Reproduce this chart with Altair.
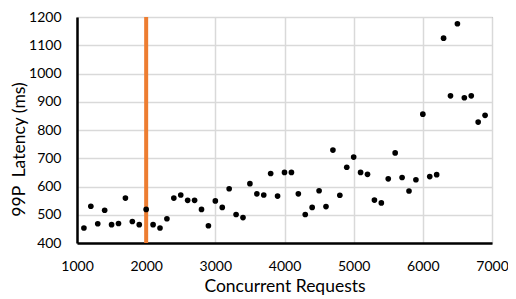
import altair as alt
import pandas as pd

requests = list(range(1100, 7000, 100))
latency = [453, 530, 468, 516, 465, 469, 559, 476, 465, 519,
           465, 453, 486, 559, 570, 551, 551, 519, 461, 549,
           526, 592, 501, 490, 610, 574, 570, 646, 566, 650,
           650, 574, 501, 526, 585, 529, 729, 569, 668, 704,
           650, 643, 552, 542, 627, 719, 632, 584, 624, 856,
           635, 642, 1125, 921, 1176, 914, 921, 828, 852]
marker_x = [2000]
x_ticks = [1000, 2000, 3000, 4000, 5000, 6000, 7000]
y_ticks = [400, 500, 600, 700, 800, 900, 1000, 1100, 1200]

df = pd.DataFrame({"req": requests, "lat": latency})
mk = pd.DataFrame({"x": marker_x})

FONT = "Lato"
TOP = 9
H = 226
SVG_H = 291
LEFT = 69
W = 415
SVG_W = 500

x_scale = alt.Scale(domain=[1000, 7000], nice=False, zero=False)
y_scale = alt.Scale(domain=[400, 1200], nice=False, zero=False)

points = alt.Chart(df).mark_circle(color="black", size=32, opacity=1).encode(
    x=alt.X("req:Q", scale=x_scale,
            axis=alt.Axis(title="Concurrent Requests", values=x_ticks, format="d",
                          ticks=False, domainColor="black", domainWidth=2.5,
                          gridColor="#d9d9d9", gridWidth=1.5,
                          labelFlush=False, labelOverlap=False,
                          labelFont=FONT, labelFontSize=14, labelColor="black",
                          labelPadding=16, titleFont=FONT, titleFontSize=17.5,
                          titleFontWeight="normal", titleColor="black", titlePadding=4)),
    y=alt.Y("lat:Q", scale=y_scale,
            axis=alt.Axis(title="99P\u00a0\u00a0Latency (ms)", values=y_ticks, format="d",
                          ticks=False, domainColor="black", domainWidth=2.5,
                          gridColor="#d9d9d9", gridWidth=1.5,
                          labelFlush=False, labelOverlap=False,
                          labelFont=FONT, labelFontSize=14, labelColor="black",
                          labelPadding=16, titleFont=FONT, titleFontSize=17.5,
                          titleFontWeight="normal", titleColor="black", titlePadding=0,
                          titleY=132)),
)

rule = alt.Chart(mk).mark_rule(color="#ED7D31", strokeWidth=4).encode(x=alt.X("x:Q", scale=x_scale))

chart = alt.layer(rule, points).properties(
    width=W, height=H,
    autosize=alt.AutoSizeParams(type="none"),
    padding={"left": LEFT, "top": TOP, "right": SVG_W - LEFT - W, "bottom": SVG_H - TOP - H},
).configure_view(stroke="#7f7f7f", strokeWidth=1)

chart.save("out.html", embed_options={"renderer": "svg", "actions": False})
